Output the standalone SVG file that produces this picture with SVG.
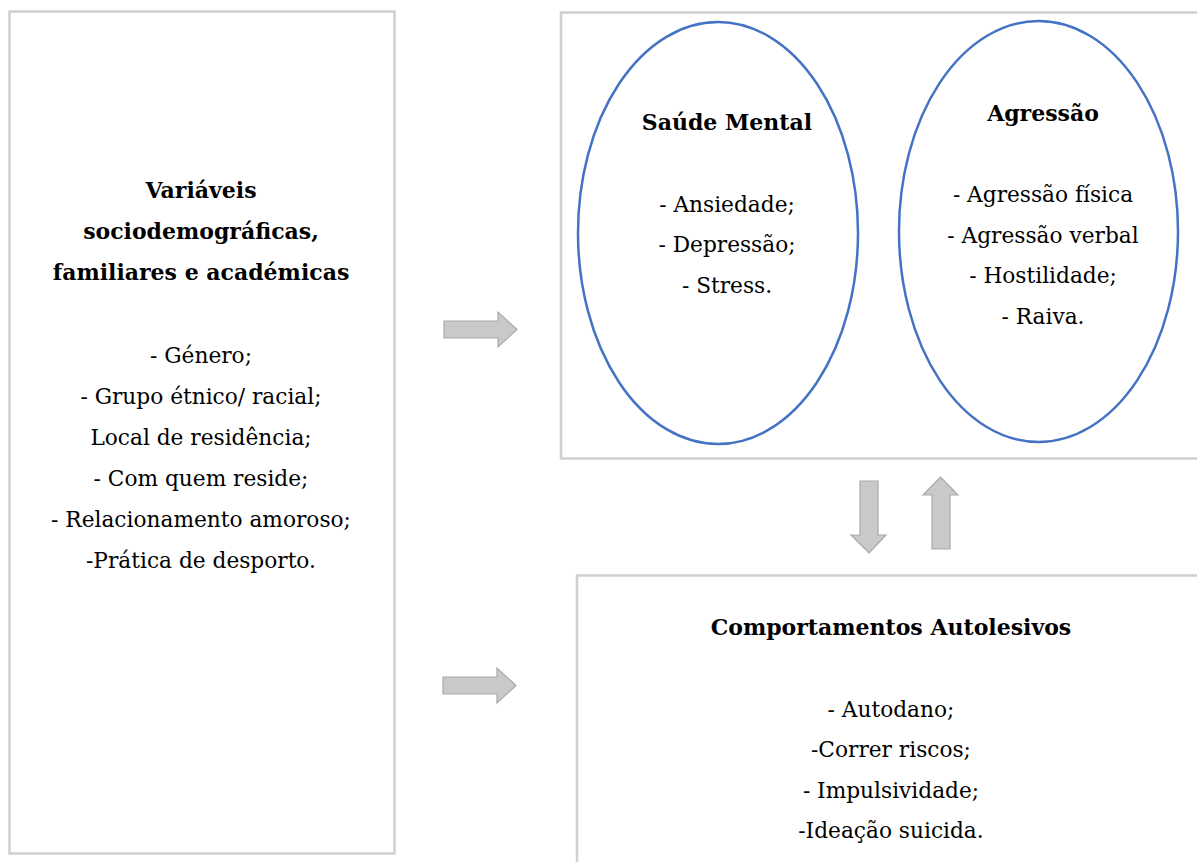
<svg xmlns="http://www.w3.org/2000/svg" width="1197" height="862" viewBox="0 0 1197 862">
<style>
.box{fill:#fff;stroke:#d0d0d0;stroke-width:2.5}
.ell{fill:none;stroke:#4472c4;stroke-width:2.5}
.arr{fill:#c9c9c9;stroke:#a9a9a9;stroke-width:1.2}
text{font-family:"DejaVu Serif","Liberation Serif",serif;fill:#000;text-anchor:middle}
.t{font-size:22px;font-weight:bold}
.i{font-size:21.7px}
</style>
<rect width="1197" height="862" fill="#fff"/>
<g id="node-variaveis">
<rect class="box" x="9.5" y="11.5" width="385" height="842"/>
<text class="t" x="201" y="198">Variáveis</text>
<text class="t" x="201" y="239">sociodemográficas,</text>
<text class="t" x="201" y="280">familiares e académicas</text>
<text class="i" x="201" y="363">- Género;</text>
<text class="i" x="201" y="404">- Grupo étnico/ racial;</text>
<text class="i" x="201" y="445">Local de residência;</text>
<text class="i" x="201" y="486">- Com quem reside;</text>
<text class="i" x="201" y="527">- Relacionamento amoroso;</text>
<text class="i" x="201" y="568">-Prática de desporto.</text>
</g>
<g id="node-topbox">
<rect class="box" x="561" y="12.5" width="640" height="446"/>
</g>
<g id="node-saude">
<ellipse class="ell" cx="718" cy="233" rx="140" ry="211"/>
<text class="t" x="727" y="130">Saúde Mental</text>
<text class="i" x="727" y="212">- Ansiedade;</text>
<text class="i" x="727" y="252">- Depressão;</text>
<text class="i" x="727" y="293">- Stress.</text>
</g>
<g id="node-agressao">
<ellipse class="ell" cx="1038.5" cy="231.5" rx="139.5" ry="210.5"/>
<text class="t" x="1043" y="121">Agressão</text>
<text class="i" x="1043" y="202">- Agressão física</text>
<text class="i" x="1043" y="243">- Agressão verbal</text>
<text class="i" x="1043" y="283">- Hostilidade;</text>
<text class="i" x="1043" y="324">- Raiva.</text>
</g>
<g id="node-comportamentos">
<rect class="box" x="577" y="575.5" width="630" height="300"/>
<text class="t" x="891" y="635">Comportamentos Autolesivos</text>
<text class="i" x="891" y="717">- Autodano;</text>
<text class="i" x="891" y="757">-Correr riscos;</text>
<text class="i" x="891" y="798">- Impulsividade;</text>
<text class="i" x="891" y="838">-Ideação suicida.</text>
</g>
<g id="connectors">
<path class="arr" d="M444 321 H498 V312 L517 329.5 L498 347 V338 H444 Z"/>
<path class="arr" d="M443 677 H497 V668 L516 685.5 L497 703 V694 H443 Z"/>
<path class="arr" d="M860 481 H878 V535 H886 L869 553 L851 535 H860 Z"/>
<path class="arr" d="M932 549 H950 V495 H958 L940.5 477 L923 495 H932 Z"/>
</g>
</svg>
